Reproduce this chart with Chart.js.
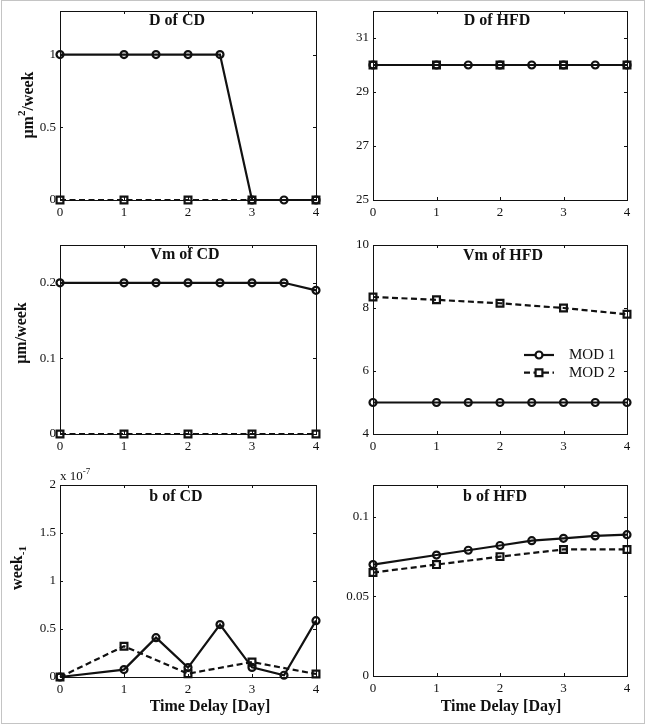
<!DOCTYPE html>
<html>
<head>
<meta charset="utf-8">
<script src="https://cdn.jsdelivr.net/npm/chart.js@4.4.0/dist/chart.umd.min.js"></script>
<style>
    html, body { margin: 0; padding: 0; background: #fff; }
    #frame { position: relative; width: 646px; height: 726px; overflow: hidden; }
    #frame::after {
        content: ''; position: absolute; left: 1px; top: 0; width: 644px; height: 724px;
        border: 1px solid #c4c4c4; box-sizing: border-box; pointer-events: none;
    }
    #frame canvas { position: absolute; }
</style>
</head>
<body>
<div id="frame"></div>
<script>
// ------------------------------------------------------------
// DATA
// ------------------------------------------------------------
const seriesNames = ['MOD 1', 'MOD 2'];

// time delay [day] at which each model was evaluated
const daysMod1 = [0, 1, 1.5, 2, 2.5, 3, 3.5, 4];
const daysMod2 = [0, 1, 2, 3, 4];
const dayTicks = [0, 1, 2, 3, 4];

// D (um^2/week)
const dCdMod1 = [1, 1, 1, 1, 1, 0, 0, 0];
const dCdMod2 = [0, 0, 0, 0, 0];
const dCdTicks = [0, 0.5, 1];

const dHfdMod1 = [30, 30, 30, 30, 30, 30, 30, 30];
const dHfdMod2 = [30, 30, 30, 30, 30];
const dHfdTicks = [25, 27, 29, 31];

// Vm (um/week)
const vmCdMod1 = [0.2, 0.2, 0.2, 0.2, 0.2, 0.2, 0.2, 0.19];
const vmCdMod2 = [0, 0, 0, 0, 0];
const vmCdTicks = [0, 0.1, 0.2];

const vmHfdMod1 = [5, 5, 5, 5, 5, 5, 5, 5];
const vmHfdMod2 = [8.35, 8.26, 8.15, 8.0, 7.8];
const vmHfdTicks = [4, 6, 8, 10];

// b (week^-1); CD values in units of 1e-7
const bCdMod1 = [0, 0.077, 0.41, 0.098, 0.546, 0.1, 0.018, 0.587];
const bCdMod2 = [0, 0.32, 0.035, 0.156, 0.031];
const bCdTicks = [0, 0.5, 1, 1.5, 2];

const bHfdMod1 = [0.07, 0.076, 0.079, 0.082, 0.085, 0.0865, 0.088, 0.0888];
const bHfdMod2 = [0.065, 0.07, 0.075, 0.0795, 0.0795];
const bHfdTicks = [0, 0.05, 0.1];

// ------------------------------------------------------------
// STYLE / LAYOUT
// ------------------------------------------------------------
const SERIF = "'Liberation Serif', 'Times New Roman', 'DejaVu Serif', serif";
const INK = '#111';

// box = canvas [x, y, w, h] on the page, area = plot [left, top, right, bottom]
const PANELS = [
    { box: [0, 0, 323, 230], area: [60, 11, 316, 200],
      mod1: dCdMod1, mod2: dCdMod2, yMin: 0, yMax: 1.3, yTicks: dCdTicks,
      title: ['D of CD', 177, 21],
      yTitle: { parts: [['μm', 0], ['2', 1], ['/week', 0]], at: [29, 105] } },
    { box: [323, 0, 323, 230], area: [373, 11, 627, 200],
      mod1: dHfdMod1, mod2: dHfdMod2, yMin: 25, yMax: 32, yTicks: dHfdTicks,
      title: ['D of HFD', 497, 21] },
    { box: [0, 230, 323, 230], area: [60, 245, 316, 434],
      mod1: vmCdMod1, mod2: vmCdMod2, yMin: 0, yMax: 0.25, yTicks: vmCdTicks,
      title: ['Vm of CD', 185, 255],
      yTitle: { parts: [['μm/week', 0]], at: [22, 333] } },
    { box: [323, 230, 323, 230], area: [373, 245, 627, 434],
      mod1: vmHfdMod1, mod2: vmHfdMod2, yMin: 4, yMax: 10, yTicks: vmHfdTicks,
      title: ['Vm of HFD', 503, 256],
      legend: { x: 524, y: 355, step: 17.7, len: 30, textX: 569 } },
    { box: [0, 460, 323, 266], area: [60, 485, 316, 677],
      mod1: bCdMod1, mod2: bCdMod2, yMin: 0, yMax: 2, yTicks: bCdTicks,
      title: ['b of CD', 176, 497],
      yTitle: { parts: [['week', 0], ['-1', -1]], at: [18, 568] },
      xTitle: ['Time Delay [Day]', 210, 707],
      exponent: { parts: [['x 10', 0], ['-7', 1]], at: [60, 477] } },
    { box: [323, 460, 323, 266], area: [373, 485, 627, 676],
      mod1: bHfdMod1, mod2: bHfdMod2, yMin: 0, yMax: 0.12, yTicks: bHfdTicks,
      title: ['b of HFD', 495, 497],
      xTitle: ['Time Delay [Day]', 501, 707] },
];

// text with super/subscript pieces, optionally rotated
function drawRich(ctx, parts, x, y, o) {
    const size = o.size, small = Math.round(size * 0.7);
    const weight = o.bold ? 'bold ' : '';
    let total = 0;
    const widths = parts.map(([t, s]) => {
        ctx.font = weight + (s ? small : size) + 'px ' + SERIF;
        const w = ctx.measureText(t).width;
        total += w;
        return w;
    });
    ctx.save();
    ctx.translate(x, y);
    if (o.rotate) ctx.rotate(-Math.PI / 2);
    ctx.fillStyle = INK;
    ctx.textBaseline = 'middle';
    ctx.textAlign = 'left';
    let cx = o.align === 'left' ? 0 : -total / 2;
    parts.forEach(([t, s], i) => {
        ctx.font = weight + (s ? small : size) + 'px ' + SERIF;
        ctx.fillText(t, cx, s === 1 ? -size * 0.4 : s === -1 ? size * 0.35 : 0);
        cx += widths[i];
    });
    ctx.restore();
}

// MATLAB-like box with inward ticks, plus panel texts and legend
const matlabFrame = {
    id: 'matlabFrame',
    beforeDatasetsDraw(chart) {
        const { ctx, chartArea: a, scales: { x, y } } = chart;
        const TL = 3;
        ctx.save();
        ctx.strokeStyle = INK;
        ctx.lineWidth = 1;
        ctx.strokeRect(a.left + 0.5, a.top + 0.5, a.right - a.left, a.bottom - a.top);
        ctx.beginPath();
        x.ticks.forEach(t => {
            const px = Math.round(x.getPixelForValue(t.value)) + 0.5;
            if (px < a.left + 2 || px > a.right - 1) return;
            ctx.moveTo(px, a.bottom); ctx.lineTo(px, a.bottom - TL);
            ctx.moveTo(px, a.top); ctx.lineTo(px, a.top + TL);
        });
        y.ticks.forEach(t => {
            const py = Math.round(y.getPixelForValue(t.value)) + 0.5;
            if (py < a.top + 2 || py > a.bottom - 1) return;
            ctx.moveTo(a.left, py); ctx.lineTo(a.left + TL, py);
            ctx.moveTo(a.right, py); ctx.lineTo(a.right - TL, py);
        });
        ctx.stroke();
        ctx.restore();
    },
    afterDraw(chart, args, opts) {
        const p = opts.panel;
        if (!p) return;
        const { ctx } = chart;
        const ox = p.box[0], oy = p.box[1];

        drawRich(ctx, [[p.title[0], 0]], p.title[1] - ox, p.title[2] - oy, { size: 16, bold: true });
        if (p.yTitle) {
            drawRich(ctx, p.yTitle.parts, p.yTitle.at[0] - ox, p.yTitle.at[1] - oy,
                { size: 16, bold: true, rotate: true });
        }
        if (p.xTitle) {
            drawRich(ctx, [[p.xTitle[0], 0]], p.xTitle[1] - ox, p.xTitle[2] - oy, { size: 16, bold: true });
        }
        if (p.exponent) {
            drawRich(ctx, p.exponent.parts, p.exponent.at[0] - ox, p.exponent.at[1] - oy,
                { size: 13, align: 'left' });
        }
        if (p.legend) {
            const lg = p.legend;
            chart.data.datasets.forEach((ds, i) => {
                const ly = lg.y - oy + i * lg.step;
                const lx = lg.x - ox;
                ctx.save();
                ctx.strokeStyle = ds.borderColor;
                ctx.lineWidth = ds.borderWidth;
                ctx.setLineDash(ds.borderDash);
                ctx.beginPath();
                ctx.moveTo(lx, ly); ctx.lineTo(lx + lg.len, ly);
                ctx.stroke();
                ctx.setLineDash([]);
                ctx.lineWidth = ds.pointBorderWidth;
                ctx.fillStyle = '#fff';
                ctx.beginPath();
                const mx = lx + lg.len / 2;
                if (ds.pointStyle === 'rect') {
                    const s = ds.pointRadius * Math.SQRT1_2;
                    ctx.rect(mx - s, ly - s, 2 * s, 2 * s);
                } else {
                    ctx.arc(mx, ly, ds.pointRadius, 0, Math.PI * 2);
                }
                ctx.fill();
                ctx.stroke();
                ctx.fillStyle = INK;
                ctx.font = '15px ' + SERIF;
                ctx.textBaseline = 'middle';
                ctx.fillText(ds.label, lg.textX - ox, ly);
                ctx.restore();
            });
        }
    },
};

function series(label, xs, ys, dashed) {
    return {
        label,
        data: xs.map((x, i) => ({ x, y: ys[i] })),
        borderColor: INK,
        borderWidth: 2.2,
        borderDash: dashed ? [6, 3.5] : [],
        pointStyle: dashed ? 'rect' : 'circle',
        pointRadius: dashed ? 4.8 : 3.5,
        pointBorderWidth: 2.2,
        pointBorderColor: INK,
        pointBackgroundColor: 'rgba(255, 255, 255, 0)',
        tension: 0,
        clip: false,
        order: dashed ? 0 : 1,
    };
}

function tickFont() {
    return { family: SERIF, size: 13 };
}

function makePanel(p) {
    const [bx, by, bw, bh] = p.box;
    const [l, t, r, b] = p.area;
    const canvas = document.createElement('canvas');
    canvas.width = bw;
    canvas.height = bh;
    canvas.style.left = bx + 'px';
    canvas.style.top = by + 'px';
    document.getElementById('frame').appendChild(canvas);

    const yW = l - bx;
    const xH = by + bh - b;

    return new Chart(canvas, {
        type: 'line',
        data: {
            datasets: [
                series(seriesNames[0], daysMod1, p.mod1, false),
                series(seriesNames[1], daysMod2, p.mod2, true),
            ],
        },
        options: {
            responsive: false,
            animation: false,
            devicePixelRatio: 1,
            events: [],
            layout: {
                autoPadding: false,
                padding: { left: 0, top: t - by, right: bx + bw - r, bottom: 0 },
            },
            plugins: {
                legend: { display: false },
                tooltip: { enabled: false },
                matlabFrame: { panel: p },
            },
            scales: {
                x: {
                    type: 'linear',
                    min: 0,
                    max: 4,
                    bounds: 'data',
                    grid: { display: false, drawTicks: false },
                    border: { display: false },
                    afterBuildTicks: s => { s.ticks = dayTicks.map(v => ({ value: v })); },
                    afterFit: s => { s.height = xH; s.paddingLeft = 0; s.paddingRight = 0; },
                    ticks: {
                        font: tickFont(), color: INK, padding: 5,
                        maxRotation: 0, autoSkip: false,
                        callback: v => String(v),
                    },
                },
                y: {
                    type: 'linear',
                    min: p.yMin,
                    max: p.yMax,
                    bounds: 'data',
                    grid: { display: false, drawTicks: false },
                    border: { display: false },
                    afterBuildTicks: s => { s.ticks = p.yTicks.map(v => ({ value: v })); },
                    afterFit: s => { s.width = yW; s.paddingTop = 0; s.paddingBottom = 0; },
                    ticks: {
                        font: tickFont(), color: INK, padding: 4,
                        autoSkip: false,
                        callback: v => String(v),
                    },
                },
            },
        },
        plugins: [matlabFrame],
    });
}

PANELS.forEach(makePanel);
</script>
</body>
</html>
